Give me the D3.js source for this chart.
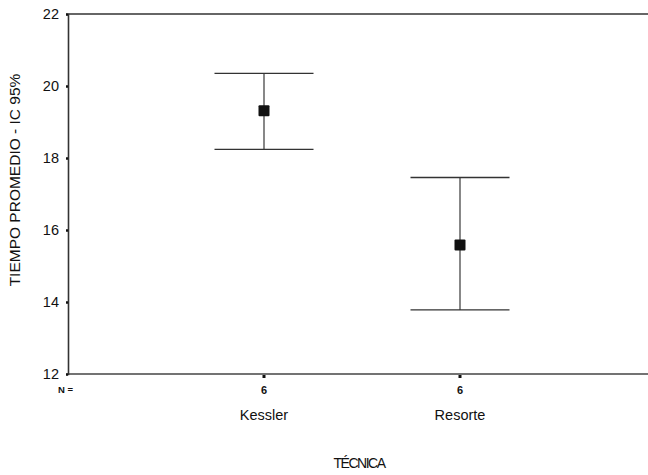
<!DOCTYPE html>
<html>
<head>
<meta charset="utf-8">
<script src="https://cdn.jsdelivr.net/npm/d3@7"></script>
<style>
  body { margin: 0; background: #fff; }
  svg { font-family: "Liberation Sans", Arial, sans-serif; }
</style>
</head>
<body>
<svg id="chart" width="648" height="475"></svg>
<script>
const categories = ['Kessler', 'Resorte'];
const nValues = [6, 6];
const means = [19.31, 15.58];
const lowers = [18.24, 13.78];
const uppers = [20.35, 17.46];
const yTicks = [12, 14, 16, 18, 20, 22];

const svg = d3.select('#chart');
const plotLeft = 68, plotTop = 14, plotBottom = 374, plotRight = 656;

const y = d3.scaleLinear().domain([12, 22]).range([plotBottom, plotTop]);
const x = d3.scaleLinear().domain([0, 3]).range([plotLeft, plotRight]);
const capHalf = 49.5;

// frame
svg.append('line')
  .attr('x1', plotLeft).attr('x2', 648)
  .attr('y1', plotTop).attr('y2', plotTop)
  .attr('stroke', '#333').attr('stroke-width', 1.6);

svg.append('line')
  .attr('x1', plotLeft).attr('x2', 648)
  .attr('y1', plotBottom).attr('y2', plotBottom)
  .attr('stroke', '#444').attr('stroke-width', 1.4);

// y axis
const yAxis = svg.append('g')
  .attr('transform', `translate(${plotLeft},0)`)
  .call(d3.axisLeft(y).tickValues(yTicks).tickSize(2).tickPadding(7).tickFormat(d3.format('d')));
yAxis.select('.domain').attr('stroke', '#333').attr('stroke-width', 1.6);
yAxis.selectAll('.tick line').attr('stroke', '#111').attr('stroke-width', 2.5);
yAxis.selectAll('.tick text')
  .attr('font-size', 14.5).attr('fill', '#111')
  .attr('font-family', '"Liberation Sans", Arial, sans-serif');

// x ticks (N counts)
const xg = svg.append('g');
categories.forEach((c, i) => {
  const cx = x(i + 1);
  xg.append('rect')
    .attr('x', cx - 1.5).attr('y', plotBottom + 1)
    .attr('width', 3).attr('height', 3).attr('fill', '#111');
  xg.append('text')
    .attr('x', cx).attr('y', plotBottom + 20)
    .attr('text-anchor', 'middle')
    .attr('font-size', 11).attr('font-weight', 'bold').attr('fill', '#111')
    .text(nValues[i]);
  xg.append('text')
    .attr('x', cx).attr('y', plotBottom + 46)
    .attr('text-anchor', 'middle')
    .attr('font-size', 14.5).attr('fill', '#111')
    .text(c);
});

svg.append('text')
  .attr('x', 58).attr('y', plotBottom + 19)
  .attr('font-size', 9.5).attr('font-weight', 'bold').attr('fill', '#111')
  .text('N =');

// error bars
const bars = svg.append('g');
categories.forEach((c, i) => {
  const cx = x(i + 1);
  bars.append('line')
    .attr('x1', cx).attr('x2', cx)
    .attr('y1', y(uppers[i])).attr('y2', y(lowers[i]))
    .attr('stroke', '#555').attr('stroke-width', 1.4);
  [uppers[i], lowers[i]].forEach(v => {
    bars.append('line')
      .attr('x1', cx - capHalf).attr('x2', cx + capHalf)
      .attr('y1', y(v)).attr('y2', y(v))
      .attr('stroke', '#333').attr('stroke-width', 1.4);
  });
  bars.append('rect')
    .attr('x', cx - 5.5).attr('y', y(means[i]) - 5.5)
    .attr('width', 11).attr('height', 11)
    .attr('rx', 1)
    .attr('fill', '#111');
});

// axis titles
svg.append('text')
  .attr('transform', 'translate(20,180) rotate(-90)')
  .attr('text-anchor', 'middle')
  .attr('font-size', 15.5).attr('fill', '#111')
  .text('TIEMPO PROMEDIO - IC 95%');

svg.append('text')
  .attr('x', 359).attr('y', 468)
  .attr('text-anchor', 'middle')
  .attr('font-size', 14).attr('fill', '#111')
  .attr('letter-spacing', -1.5)
  .text('TÉCNICA');
</script>
</body>
</html>
